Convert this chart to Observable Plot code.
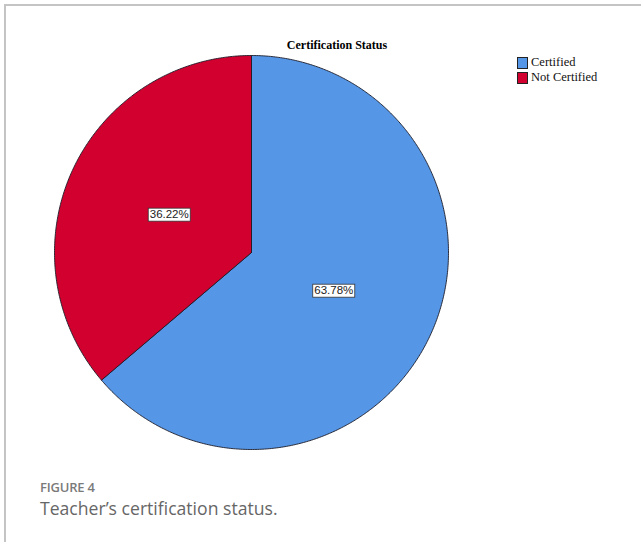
<!DOCTYPE html>
<html><head><meta charset="utf-8">
<script src="https://cdn.jsdelivr.net/npm/d3@7"></script>
<script src="https://cdn.jsdelivr.net/npm/@observablehq/plot@0.6"></script>
<style>
html,body{margin:0;padding:0;background:#fff;}
#wrap{position:relative;width:641px;height:542px;overflow:hidden;}
.bt{position:absolute;left:4px;top:4px;width:640px;height:1.5px;background:#c4c4c4;}
.bl{position:absolute;left:4px;top:4px;width:1.5px;height:540px;background:#c4c4c4;}
#chart{position:absolute;left:0;top:0;}
#title{position:absolute;left:237px;width:200px;top:38px;text-align:center;font:bold 12px "Liberation Serif",serif;color:#000;}
#legend{position:absolute;left:517px;top:55px;font:12.5px "Liberation Serif",serif;color:#111;}
#legend .row{display:flex;align-items:center;height:15px;}
#legend .sw{width:9px;height:10px;border:1px solid #222;margin-right:3px;}
#cap{position:absolute;left:40px;top:478px;font-family:"Open Sans",sans-serif;color:#6e6e6e;}
#cap .f{font-size:13px;font-weight:600;color:#7a7a7a;letter-spacing:-0.2px;}
#cap .t{font-size:17.6px;font-weight:400;margin-top:0px;color:#666;}
</style></head>
<body>
<div id="wrap">
  <div id="chart"></div>
  <div class="bt"></div><div class="bl"></div>
  <div id="title"></div>
  <div id="legend"></div>
  <div id="cap"><div class="f">FIGURE 4</div><div class="t">Teacher’s certification status.</div></div>
</div>
<script>
const chartTitle = "Certification Status";
const categories = ["Certified", "Not Certified"];
const percents = [63.78, 36.22];
const colors = ["#5596e6", "#d2002f"];
const labelTexts = ["63.78%", "36.22%"];

document.getElementById("title").textContent = chartTitle;
const leg = document.getElementById("legend");
categories.forEach((c, i) => {
  const r = document.createElement("div"); r.className = "row";
  const s = document.createElement("div"); s.className = "sw"; s.style.background = colors[i];
  const t = document.createElement("span"); t.textContent = c;
  r.appendChild(s); r.appendChild(t); leg.appendChild(r);
});

// build slice geometry from the percentages (clockwise from 12 o'clock)
const total = d3.sum(percents);
let acc = 0;
const slices = categories.map((c, i) => {
  const a0 = acc / total * 2 * Math.PI;
  acc += percents[i];
  const a1 = acc / total * 2 * Math.PI;
  const pts = [{x: 0, y: 0}];
  const n = Math.max(2, Math.ceil((a1 - a0) / (Math.PI / 360)));
  for (let k = 0; k <= n; k++) {
    const a = a0 + (a1 - a0) * k / n;
    pts.push({x: Math.sin(a), y: Math.cos(a)});
  }
  pts.push({x: 0, y: 0});
  const mid = (a0 + a1) / 2;
  return {cat: c, color: colors[i], pts, label: {x: 0.46 * Math.sin(mid), y: 0.46 * Math.cos(mid), text: labelTexts[i]}};
});

const W = 641, H = 470;
const plot = Plot.plot({
  width: W, height: H,
  marginLeft: 54, marginRight: 193, marginTop: 55, marginBottom: 21,
  x: {domain: [-1, 1], axis: null},
  y: {domain: [-1, 1], axis: null},
  style: {background: "transparent", overflow: "visible"},
  marks: [
    ...slices.map(s => Plot.line(s.pts, {x: "x", y: "y", fill: s.color, stroke: "#1c1c28", strokeWidth: 0.9, strokeLinejoin: "round"})),
    Plot.text(slices.map(s => s.label), {x: "x", y: "y", text: "text", fontFamily: "Liberation Sans, Arial, sans-serif", fontSize: 11.5, fill: "#222"})
  ]
});
document.getElementById("chart").appendChild(plot);

// white boxes with dark border behind the percentage labels
plot.querySelectorAll('g[aria-label="text"] text').forEach(t => {
  const b = t.getBBox();
  const r = document.createElementNS("http://www.w3.org/2000/svg", "rect");
  r.setAttribute("x", b.x - 1.5); r.setAttribute("y", b.y);
  r.setAttribute("width", b.width + 3); r.setAttribute("height", b.height + 1);
  r.setAttribute("fill", "#fff"); r.setAttribute("stroke", "#333"); r.setAttribute("stroke-width", "0.8");
  const tr = t.getAttribute("transform");
  if (tr) r.setAttribute("transform", tr);
  t.parentNode.insertBefore(r, t);
});
</script>
</body></html>
